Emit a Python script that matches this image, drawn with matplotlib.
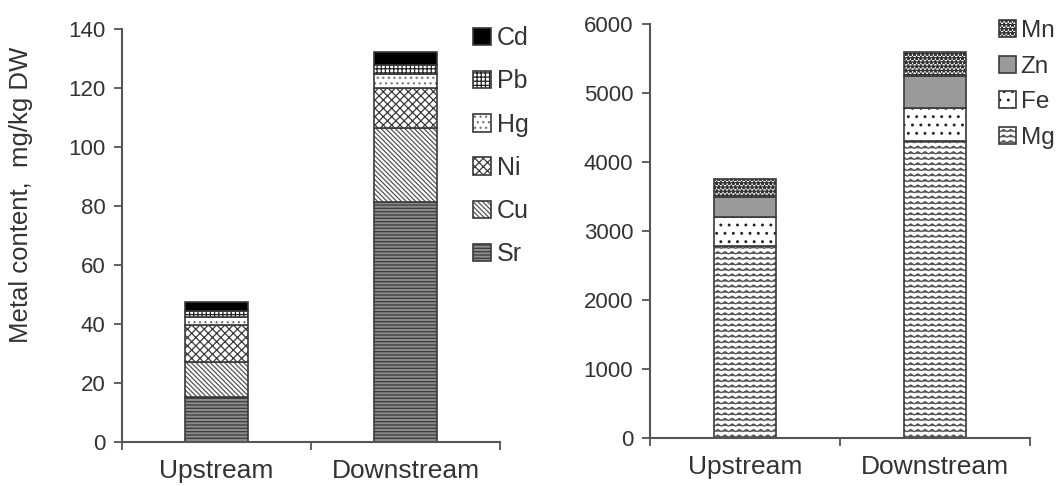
import warnings
import numpy as np
import matplotlib
matplotlib.use("Agg")
import matplotlib.pyplot as plt
import matplotlib.hatch as mhatch
import matplotlib.colors as mcolors
from matplotlib.path import Path

warnings.filterwarnings("ignore")

# data
sites = ["Upstream", "Downstream"]

trace_names = ["Sr", "Cu", "Ni", "Hg", "Pb", "Cd"]
Sr = [15.2, 81.4]
Cu = [11.9, 25.0]
Ni = [12.6, 13.6]
Hg = [2.7, 4.7]
Pb = [2.0, 3.1]
Cd = [3.1, 4.4]

major_names = ["Mg", "Fe", "Zn", "Mn"]
Mg = [2783, 4304]
Fe = [420, 479]
Zn = [287, 463]
Mn = [263, 348]


# wavy hatch ('~'), matplotlib has none built in
class WaveHatch(mhatch.HatchPatternBase):
    def __init__(self, hatch, density):
        self.num_rows = int(hatch.count('~') * density)
        self.n_pts = 29
        self.num_vertices = self.num_rows * self.n_pts

    def set_vertices_and_codes(self, vertices, codes):
        xs = np.linspace(0, 1, self.n_pts)
        amp = 0.011
        off = np.where(np.arange(self.n_pts) % 2 == 0, -amp, amp)
        rows = (np.arange(self.num_rows) + 0.5) / self.num_rows
        for i, y in enumerate(rows):
            sl = slice(i * self.n_pts, (i + 1) * self.n_pts)
            vertices[sl, 0] = xs
            vertices[sl, 1] = y + off
            codes[sl] = Path.LINETO
            codes[i * self.n_pts] = Path.MOVETO


mhatch._hatch_types.append(WaveHatch)

plt.rcParams['font.family'] = ['Liberation Sans', 'DejaVu Sans']
plt.rcParams['hatch.linewidth'] = 0.9

txt = '#333333'
edge = '#3a3a3a'

fig = plt.figure(figsize=(10.59, 4.86), dpi=100)
ax1 = fig.add_axes([0.1152, 0.0905, 0.3569, 0.8498])
ax2 = fig.add_axes([0.6138, 0.0988, 0.3588, 0.8518])

x = np.arange(len(sites))
w = 0.33

trace_vals = [Sr, Cu, Ni, Hg, Pb, Cd]
trace_style = [
    dict(color='#8c8c8c', hatch='-----'),
    dict(color='white', hatch='\\\\\\\\\\\\\\'),
    dict(color='white', hatch='xxxx'),
    dict(color='white', hatch='...'),
    dict(color='white', hatch='++++'),
    dict(color='black', hatch=None),
]
trace_hc = ['#3a3a3a', '#555555', '#3a3a3a', '#777777', '#222222', '#000000']


def set_hatch_color(bars, c):
    for p in bars:
        p._hatch_color = mcolors.to_rgba(c)
        p.stale = True


bottom = np.zeros(len(sites))
h1 = []
for name, vals, st, hc in zip(trace_names, trace_vals, trace_style, trace_hc):
    b = ax1.bar(x, vals, w, bottom=bottom, label=name, edgecolor=edge,
                linewidth=1.2, **st)
    set_hatch_color(b, hc)
    h1.append(b)
    bottom += np.array(vals)

major_vals = [Mg, Fe, Zn, Mn]
major_style = [
    dict(color='white', hatch='~~~'),
    dict(color='white', hatch='..'),
    dict(color='#9a9a9a', hatch=None),
    dict(color='white', hatch='****'),
]
major_hc = ['#555555', '#222222', '#3a3a3a', '#333333']
bottom = np.zeros(len(sites))
h2 = []
for name, vals, st, hc in zip(major_names, major_vals, major_style, major_hc):
    b = ax2.bar(x, vals, w, bottom=bottom, label=name, edgecolor=edge,
                linewidth=1.2, **st)
    set_hatch_color(b, hc)
    h2.append(b)
    bottom += np.array(vals)

for ax, top, step in [(ax1, 140, 20), (ax2, 6000, 1000)]:
    ax.set_xlim(-0.5, 1.5)
    ax.set_ylim(0, top)
    ax.set_yticks(np.arange(0, top + 1, step))
    ax.set_xticks(x)
    ax.set_xticklabels(sites, fontsize=19, color=txt)
    ax.set_xticks([-0.5, 0.5, 1.5], minor=True)
    ax.tick_params(axis='x', which='major', length=0, pad=12)
    ax.tick_params(axis='x', which='minor', length=6, width=1.3, color='#555555')
    ax.tick_params(axis='y', length=6, width=1.3, color='#555555',
                   labelsize=16, labelcolor=txt, pad=6)
    for s in ['top', 'right']:
        ax.spines[s].set_visible(False)
    for s in ['left', 'bottom']:
        ax.spines[s].set_color('#555555')
        ax.spines[s].set_linewidth(1.5)

ax1.set_ylabel("Metal content,  mg/kg DW", fontsize=18.5, color=txt)
ax1.yaxis.set_label_coords(-0.235, 0.598)

leg1 = fig.legend(h1[::-1], trace_names[::-1], loc='upper left',
                  bbox_to_anchor=(0.447, 0.946), frameon=False, fontsize=18,
                  handlelength=0.7, handleheight=0.7, handletextpad=0.25,
                  labelspacing=0.77, borderpad=0, borderaxespad=0, labelcolor=txt)
leg2 = fig.legend(h2[::-1], major_names[::-1], loc='upper left',
                  bbox_to_anchor=(0.943, 0.958), frameon=False, fontsize=17.5,
                  handlelength=0.7, handleheight=0.7, handletextpad=0.2,
                  labelspacing=0.55, borderpad=0, borderaxespad=0, labelcolor=txt)
for leg, hcs in [(leg1, trace_hc[::-1]), (leg2, major_hc[::-1])]:
    for p, hc in zip(leg.get_patches(), hcs):
        p._hatch_color = mcolors.to_rgba(hc)

fig.savefig("out.png", dpi=100)
